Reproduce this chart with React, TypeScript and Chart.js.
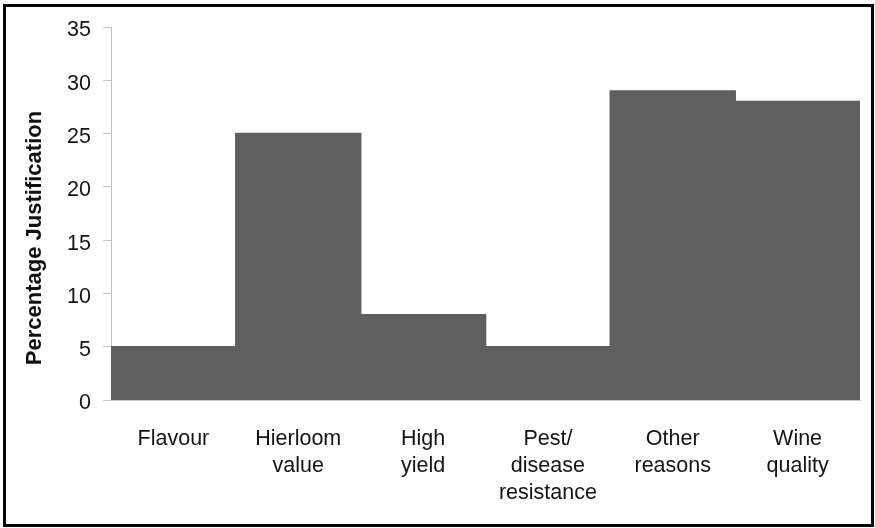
import { useEffect, useRef } from 'react';
import { Chart, registerables } from 'chart.js';

Chart.register(...registerables);

const categories: (string | string[])[] = [
  'Flavour',
  ['Hierloom', 'value'],
  ['High', 'yield'],
  ['Pest/', 'disease', 'resistance'],
  ['Other', 'reasons'],
  ['Wine', 'quality'],
];
const values = [5, 25, 8, 5, 29, 28];
const yMin = 0;
const yMax = 35;
const yStep = 5;
const yTitle = 'Percentage Justification';

const FONT = '"Liberation Sans", Arial, Helvetica, sans-serif';

const yTitlePlugin = {
  id: 'yTitlePlugin',
  afterDraw(chart: any) {
    const ctx = chart.ctx;
    const area = chart.chartArea;
    ctx.save();
    ctx.translate(34.5, (area.top + area.bottom) / 2 + 24.5);
    ctx.rotate(-Math.PI / 2);
    ctx.font = `bold 22px ${FONT}`;
    ctx.fillStyle = '#111';
    ctx.textAlign = 'center';
    ctx.textBaseline = 'middle';
    ctx.fillText(yTitle, 0, 0);
    ctx.restore();
  },
};

export default function App() {
  const ref = useRef<HTMLCanvasElement>(null);
  useEffect(() => {
    document.body.style.margin = '0';
    const chart = new Chart(ref.current!, {
      type: 'bar',
      data: {
        labels: categories,
        datasets: [
          {
            data: values,
            backgroundColor: '#5f5f5f',
            borderWidth: 0,
            inflateAmount: 0.8,
            barPercentage: 1,
            categoryPercentage: 1,
          },
        ],
      },
      options: {
        responsive: false,
        animation: false,
        devicePixelRatio: 1,
        layout: { padding: { left: 0, right: 15, top: 27, bottom: 0 } },
        plugins: {
          legend: { display: false },
          tooltip: { enabled: false },
          title: { display: false },
        },
        scales: {
          x: {
            grid: { display: false, drawTicks: false },
            border: { display: true, color: '#c8c8c8', width: 1 },
            ticks: {
              color: '#141414',
              font: { family: FONT, size: 21.5, lineHeight: 1.27 },
              padding: 25,
              maxRotation: 0,
              autoSkip: false,
            },
            afterFit: (scale: any) => {
              scale.height = 128;
            },
          },
          y: {
            min: yMin,
            max: yMax,
            grid: {
              display: true,
              drawOnChartArea: false,
              drawTicks: true,
              tickLength: 8,
              color: '#c4c4c4',
              lineWidth: 1,
            },
            border: { display: true, color: '#c0c0c0', width: 1 },
            ticks: {
              stepSize: yStep,
              color: '#141414',
              font: { family: FONT, size: 21.5 },
              padding: 12,
              labelOffset: 3.5,
            },
            afterFit: (scale: any) => {
              scale.width = 111;
            },
          },
        },
      },
      plugins: [yTitlePlugin],
    });
    return () => chart.destroy();
  }, []);
  return (
    <div style={{ position: 'relative', width: 875, height: 528, overflow: 'hidden', background: '#fff' }}>
      <canvas
        ref={ref}
        width={875}
        height={528}
        style={{ position: 'absolute', left: 0, top: 0, width: 875, height: 528 }}
      />
      <div
        style={{
          position: 'absolute',
          left: 3,
          top: 4,
          width: 871,
          height: 523,
          border: '3px solid #000',
          boxSizing: 'border-box',
          pointerEvents: 'none',
        }}
      />
    </div>
  );
}
